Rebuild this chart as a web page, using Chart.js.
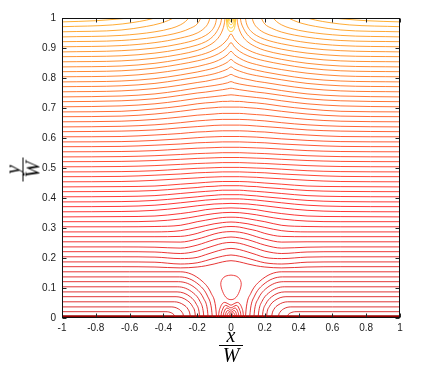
<!DOCTYPE html>
<html><head><meta charset="utf-8">
<script src="https://cdn.jsdelivr.net/npm/chart.js@4.4.1/dist/chart.umd.min.js"></script>
<style>
html,body{margin:0;padding:0;background:#fff;}
#wrap{position:relative;width:436px;height:370px;overflow:hidden;}
canvas{position:absolute;left:0;top:0;}
.frac{position:absolute;width:26px;height:39px;font-family:'Liberation Serif','Times New Roman',serif;font-style:italic;color:#000;text-align:center;white-space:nowrap;}
.frac .num{display:block;font-size:20px;line-height:20px;height:20px;}
.frac .den{display:block;font-size:20px;line-height:18px;height:18px;border-top:1px solid #000;margin:0 1px;}
</style></head>
<body><div id="wrap"><canvas id="c" width="436" height="370"></canvas>
<div class="frac" style="left:218px;top:325px;"><span class="num">x</span><span class="den">W</span></div>
<div class="frac" style="left:9px;top:150px;transform:rotate(-90deg);transform-origin:50% 50%;"><span class="num">y</span><span class="den">W</span></div>
</div>
<script>
// ---- contour lines (half-width, symmetric about x = 0) ----
const gridX = [0, 0.05, 0.1, 0.15, 0.2, 0.3, 0.45, 0.65, 1];
const midLinesY = [
  [.191, .187, .180, .174, .170, .167, .170, .171, .171],
  [.210, .206, .199, .191, .184, .180, .186, .187, .187],
  [.232, .228, .220, .211, .202, .198, .203, .204, .204],
  [.252, .249, .241, .232, .223, .215, .220, .221, .221],
  [.270, .267, .261, .252, .243, .233, .236, .237, .237],
  [.288, .286, .280, .271, .263, .253, .254, .254, .254],
  [.305, .303, .297, .291, .282, .272, .271, .271, .271],
  [.320, .318, .314, .308, .302, .291, .287, .287, .287],
  [.336, .335, .331, .326, .321, .309, .305, .304, .304],
  [.352, .351, .348, .344, .339, .330, .323, .321, .321],
  [.367, .366, .364, .361, .356, .348, .340, .338, .337],
  [.382, .381, .380, .377, .374, .367, .359, .355, .354],
  [.397, .397, .395, .393, .390, .384, .376, .372, .371],
  [.411, .411, .409, .407, .404, .399, .392, .388, .387],
  [.426, .426, .424, .422, .420, .415, .408, .405, .404],
  [.441, .441, .439, .438, .435, .431, .425, .422, .421],
  [.455, .455, .454, .452, .450, .446, .440, .438, .437],
  [.471, .471, .470, .469, .467, .464, .459, .455, .454],
  [.487, .487, .486, .485, .484, .480, .476, .472, .471],
  [.502, .502, .501, .500, .499, .496, .491, .488, .487],
  [.518, .518, .517, .516, .515, .512, .508, .505, .504],
  [.535, .535, .534, .533, .532, .529, .525, .522, .521],
  [.551, .551, .550, .549, .548, .545, .541, .538, .537],
  [.569, .569, .568, .567, .566, .563, .558, .555, .554],
  [.587, .587, .586, .585, .584, .580, .576, .572, .571],
  [.605, .605, .604, .603, .601, .597, .592, .588, .587],
  [.624, .624, .623, .621, .620, .615, .610, .605, .604],
  [.643, .643, .642, .640, .638, .634, .627, .623, .621],
  [.662, .662, .661, .659, .657, .651, .644, .639, .637],
  [.682, .682, .680, .678, .676, .670, .662, .656, .654],
  [.703, .703, .701, .699, .696, .689, .680, .673, .671]
];
const gridXU = [0, 0.02, 0.05, 0.1, 0.15, 0.2, 0.3, 0.45, 0.65, 1];
const upperLinesY = [
  [.723, .722, .722, .719, .717, .714, .706, .697, .689, .687],
  [.744, .743, .741, .738, .735, .732, .724, .714, .707, .704],
  [.766, .764, .761, .757, .753, .750, .742, .731, .724, .721],
  [.788, .784, .780, .775, .771, .767, .758, .747, .740, .737],
  [.812, .807, .801, .795, .789, .785, .776, .765, .757, .754],
  [.837, .830, .823, .814, .808, .803, .794, .782, .774, .771],
  [.862, .853, .844, .833, .826, .820, .810, .798, .790, .787],
  [.889, .878, .866, .853, .845, .838, .828, .816, .807, .804],
  [.918, .904, .889, .874, .864, .857, .846, .833, .824, .821],
  [.947, .930, .912, .894, .882, .874, .862, .849, .840, .837]
];
// lines that run into the top wall (right half; left half mirrored)
const topLinesX = [
  [.035, .04, .05, .07, .1, .15, .2, .3, .45, .65, 1],
  [.055, .06, .07, .09, .12, .15, .2, .3, .45, .65, 1],
  [.085, .09, .1, .12, .15, .2, .3, .45, .65, 1],
  [.125, .13, .14, .16, .2, .3, .45, .65, 1],
  [.18, .185, .2, .24, .3, .45, .65, 1],
  [.25, .27, .3, .35, .45, .65, 1],
  [.34, .37, .42, .5, .65, 1],
  [.45, .5, .58, .7, 1],
  [.6, .68, .8, 1]
];
const topLinesY = [
  [1.0, .98, .96, .938, .92, .903, .892, .879, .866, .857, .854],
  [1.0, .985, .97, .95, .932, .921, .91, .896, .883, .874, .871],
  [1.0, .985, .97, .955, .942, .929, .914, .9, .891, .887],
  [1.0, .99, .978, .965, .95, .933, .918, .908, .904],
  [1.0, .993, .98, .966, .953, .936, .925, .921],
  [1.0, .988, .977, .966, .954, .942, .937],
  [1.0, .992, .982, .972, .96, .954],
  [1.0, .993, .985, .977, .971],
  [1.0, .996, .991, .987]
];
// lines that bend down into the bottom wall (right half; left half mirrored)
const diveLinesX = [
  [.33, .332, .338, .352, .385, .6, 1],
  [.28, .282, .291, .310, .354, .6, 1],
  [.24, .243, .254, .278, .335, .6, 1],
  [.21, .213, .227, .256, .325, .6, 1],
  [.185, .189, .205, .239, .319, .6, 1],
  [.16, .165, .183, .222, .315, .6, 1],
  [.135, .140, .161, .205, .310, .6, 1],
  [.11, .116, .139, .188, .304, .6, 1],
  [.085, .091, .117, .171, .300, .6, 1]
];
const diveLinesY = [
  [0, .005, .011, .017, .021, .021, .021],
  [0, .009, .020, .030, .037, .037, .037],
  [0, .013, .029, .043, .054, .054, .054],
  [0, .017, .038, .057, .071, .071, .071],
  [0, .021, .046, .070, .087, .087, .087],
  [0, .025, .055, .083, .104, .104, .104],
  [0, .029, .064, .097, .121, .121, .121],
  [0, .033, .073, .110, .137, .137, .137],
  [0, .037, .082, .123, .154, .154, .154]
];
// nested caps over the bottom centre (right half; mirrored)
const capsX = [
  [0, .0225, .0375, .0525, .064, .071, .075],
  [0, .018, .03, .042, .051, .057, .06],
  [0, .014, .0235, .033, .040, .0447, .047],
  [0, .011, .018, .025, .0306, .0342, .036],
  [0, .008, .013, .018, .022, .0247, .026],
  [0, .005, .0085, .012, .0145, .016, .017],
  [0, .0027, .0045, .0063, .0077, .0086, .009]
];
const capsY = [
  [.043, .049, .052, .047, .034, .020, 0],
  [.034, .039, .042, .038, .027, .016, 0],
  [.026, .031, .033, .030, .021, .0125, 0],
  [.019, .023, .025, .0225, .016, .0095, 0],
  [.013, .016, .018, .016, .0117, .0068, 0],
  [.008, .0098, .011, .0099, .0072, .0042, 0],
  [.004, .0053, .006, .0054, .0039, .0023, 0]
];
// closed loop above the bottom centre
const loopX = [0, .03, .05, .06, .058, .05, .038, .022, 0, -.022, -.038, -.05, -.058, -.06, -.05, -.03, 0];
const loopY = [.143, .140, .131, .118, .103, .089, .075, .065, .061, .065, .075, .089, .103, .118, .131, .140, .143];
// small rings under the top singular point
const blobX = [
  [-.008, -.0068, -.0044, 0, .0044, .0068, .008],
  [-.015, -.0128, -.0083, 0, .0083, .0128, .015],
  [-.022, -.0187, -.0121, 0, .0121, .0187, .022],
  [-.028, -.0238, -.0154, 0, .0154, .0238, .028]
];
const blobY = [
  [1, .9934, .9894, .988, .9894, .9934, 1],
  [1, .9879, .9806, .978, .9806, .9879, 1],
  [1, .9819, .971, .967, .971, .9819, 1],
  [1, .9753, .9604, .955, .9604, .9753, 1]
];
const wallBandY = 0.004;

// ---- styling helpers ----
function hot(t) {
  const c = v => Math.max(0, Math.min(1, v));
  const r = c(t / 0.375), g = c((t - 0.375) / 0.375), b = c((t - 0.75) / 0.25);
  return `rgb(${Math.round(r*255)},${Math.round(g*255)},${Math.round(b*255)})`;
}
const levelColor = e => hot(0.31 + 0.3 * Math.pow(e, 1.5));

function mirrorFull(xs, ys) {
  const pts = [];
  for (let i = xs.length - 1; i >= 1; i--) pts.push({x: -xs[i], y: ys[i]});
  for (let i = 0; i < xs.length; i++) pts.push({x: xs[i], y: ys[i]});
  return pts;
}
function halfPiece(xs, ys, sign) {
  const pts = [];
  if (sign > 0) for (let i = 0; i < xs.length; i++) pts.push({x: xs[i], y: ys[i]});
  else for (let i = xs.length - 1; i >= 0; i--) pts.push({x: -xs[i], y: ys[i]});
  return pts;
}
const LW = 0.8;
function ds(data, color, extra) {
  return Object.assign({data, showLine: true, pointRadius: 0, borderWidth: LW, borderColor: color,
    fill: false, cubicInterpolationMode: 'monotone'}, extra || {});
}

const datasets = [];
diveLinesY.forEach((ys, i) => {
  const e = ys[ys.length - 1];
  datasets.push(ds(halfPiece(diveLinesX[i], ys, -1), levelColor(e)));
  datasets.push(ds(halfPiece(diveLinesX[i], ys, 1), levelColor(e)));
});
midLinesY.forEach(ys => datasets.push(ds(mirrorFull(gridX, ys), levelColor(ys[ys.length - 1]))));
upperLinesY.forEach(ys => datasets.push(ds(mirrorFull(gridXU, ys), levelColor(ys[ys.length - 1]))));
topLinesY.forEach((ys, i) => {
  const e = ys[ys.length - 1];
  datasets.push(ds(halfPiece(topLinesX[i], ys, -1), levelColor(e)));
  datasets.push(ds(halfPiece(topLinesX[i], ys, 1), levelColor(e)));
});
capsY.forEach((ys, i) => datasets.push(ds(mirrorFull(capsX[i], ys), 'rgb(225,0,0)')));
datasets.push(ds(loopX.map((x, i) => ({x, y: loopY[i]})), 'rgb(232,20,20)', {cubicInterpolationMode: 'default', tension: 0.4}));
blobY.forEach((ys, i) => datasets.push(ds(blobX[i].map((x, j) => ({x, y: ys[j]})), 'rgb(255,190,0)')));
datasets.push(ds([{x: -1, y: wallBandY}, {x: 1, y: wallBandY}], 'rgb(150,0,0)', {borderWidth: 3}));

const frame = {
  id: 'frame',
  afterDatasetsDraw(chart) {
    const {ctx, chartArea: a, scales: {x, y}} = chart;
    const L = Math.round(a.left) + 0.5, R = Math.round(a.right) - 0.5;
    const T = Math.round(a.top) + 0.5, B = Math.round(a.bottom) - 0.5;
    ctx.save();
    ctx.lineWidth = 1;
    ctx.strokeStyle = '#262626';
    ctx.beginPath();
    x.ticks.forEach(t => {
      const p = Math.round(x.getPixelForValue(t.value)) + 0.5;
      ctx.moveTo(p, B); ctx.lineTo(p, B - 4);
      ctx.moveTo(p, T); ctx.lineTo(p, T + 4);
    });
    y.ticks.forEach(t => {
      const p = Math.round(y.getPixelForValue(t.value)) + 0.5;
      ctx.moveTo(L, p); ctx.lineTo(L + 4, p);
      ctx.moveTo(R, p); ctx.lineTo(R - 4, p);
    });
    ctx.stroke();
    ctx.strokeStyle = '#111';
    ctx.strokeRect(L, T, R - L, B - T);
    ctx.restore();
  }
};

const fmt = v => String(Math.round(v * 10) / 10);
const tickFont = {family: "'Liberation Sans', Arial, sans-serif", size: 10};

new Chart(document.getElementById('c'), {
  type: 'scatter',
  data: {datasets},
  options: {
    responsive: false, animation: false, devicePixelRatio: 1, events: [],
    layout: {padding: {top: 18, right: 36, left: 0, bottom: 0}},
    plugins: {legend: {display: false}, tooltip: {enabled: false}},
    scales: {
      x: {type: 'linear', min: -1, max: 1,
        grid: {display: false, drawTicks: false}, border: {display: false},
        ticks: {stepSize: 0.2, padding: 4, color: '#1a1a1a', font: tickFont, callback: fmt, maxRotation: 0, autoSkip: false},
        afterFit(s) { s.height = 52; }},
      y: {type: 'linear', min: 0, max: 1,
        grid: {display: false, drawTicks: false}, border: {display: false},
        ticks: {stepSize: 0.1, padding: 6, color: '#1a1a1a', font: tickFont, callback: fmt, autoSkip: false},
        afterFit(s) { s.width = 62; }}
    }
  },
  plugins: [frame]
});
</script></body></html>
